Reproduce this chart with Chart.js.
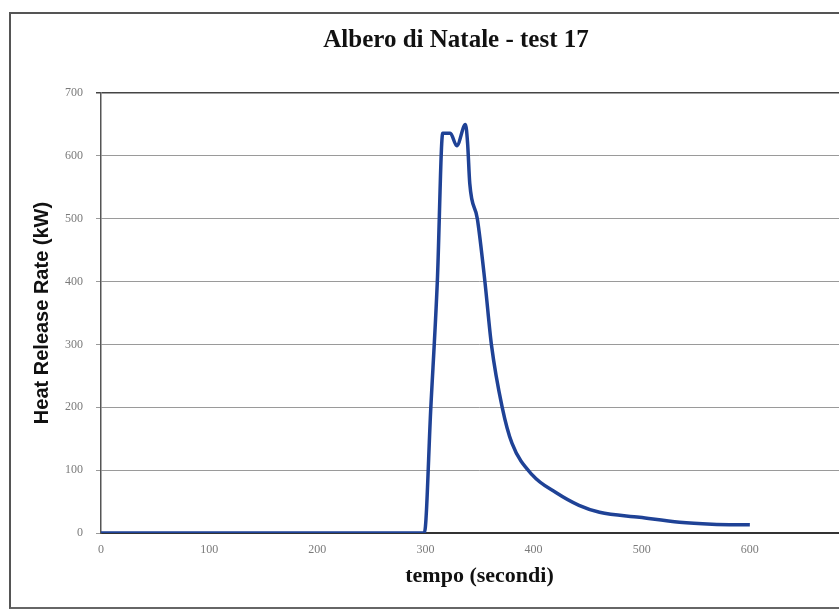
<!DOCTYPE html>
<html>
<head>
<meta charset="utf-8">
<script src="https://cdn.jsdelivr.net/npm/chart.js@4/dist/chart.umd.min.js"></script>
<style>
  html, body { margin: 0; padding: 0; background: #ffffff; overflow: hidden; width: 839px; height: 614px; }
  #wrap { position: absolute; left: 0; top: 0; width: 906px; height: 614px; }
  #frame { position: absolute; left: 9px; top: 12px; width: 1000px; height: 593px;
           border-left: 2px solid #555; border-top: 2px solid #555; border-bottom: 2px solid #666; }
</style>
</head>
<body>
<div id="wrap"><canvas id="c" width="906" height="614"></canvas></div>
<div id="frame"></div>
<script>
// ---- data ----
const times = [0, 100, 200, 299, 305, 311, 316, 323, 329, 337, 339, 341, 348, 355, 361, 371, 380, 399, 421, 442, 461, 498, 535, 565, 600];
const hrr   = [0, 0, 0, 0, 200, 400, 636, 636, 616, 650, 620, 556, 500, 400, 300, 200, 143, 92, 64, 44, 33, 25, 17, 14, 13];
const yTicks = [0, 100, 200, 300, 400, 500, 600, 700];
const xTickLabels = [0, 100, 200, 300, 400, 500, 600];
const chartTitle = 'Albero di Natale - test 17';
const xTitle = 'tempo (secondi)';
const yTitle = 'Heat Release Rate (kW)';

const points = times.map((t, i) => ({ x: t, y: hrr[i] }));

const titlePlugin = {
  id: 'pageTitle',
  afterDraw(chart) {
    const ctx = chart.ctx;
    ctx.save();
    ctx.fillStyle = '#111';
    ctx.font = 'bold 25px "Liberation Serif"';
    ctx.textAlign = 'center';
    ctx.textBaseline = 'middle';
    ctx.fillText(chartTitle, 456, 41);
    ctx.restore();
  }
};

new Chart(document.getElementById('c'), {
  type: 'line',
  data: {
    datasets: [{
      data: points,
      borderColor: '#1f4296',
      borderWidth: 3.5,
      pointRadius: 0,
      cubicInterpolationMode: 'monotone',
      fill: false,
      borderCapStyle: 'butt'
    }]
  },
  plugins: [titlePlugin],
  options: {
    responsive: false,
    animation: false,
    layout: { padding: { left: 0, right: 48, top: 93, bottom: 0 } },
    plugins: {
      legend: { display: false },
      tooltip: { enabled: false },
      title: { display: false }
    },
    scales: {
      x: {
        type: 'linear',
        min: 0,
        max: 700,
        afterFit: s => { s.height = 81; },
        afterBuildTicks: s => { s.ticks = [0,100,200,300,400,500,600,700].map(v => ({ value: v })); },
        ticks: {
          padding: 10,
          color: '#7a7a7a',
          font: { family: 'Liberation Serif', size: 12 },
          maxRotation: 0,
          callback: v => xTickLabels.includes(v) ? String(v) : ''
        },
        grid: { display: false, drawTicks: false },
        border: { display: true, color: '#333', width: 2 },
        title: {
          display: true,
          text: xTitle,
          color: '#111',
          font: { family: 'Liberation Serif', size: 22, weight: 'bold' },
          padding: { top: 0, bottom: 24 }
        }
      },
      y: {
        min: 0,
        max: 700,
        afterFit: s => { s.width = 101; },
        afterBuildTicks: s => { s.ticks = yTicks.map(v => ({ value: v })); },
        ticks: {
          padding: 13,
          color: '#7a7a7a',
          font: { family: 'Liberation Serif', size: 12 }
        },
        grid: {
          color: c => (c.tick && c.tick.value === 700) ? '#444' : '#9a9a9a',
          lineWidth: c => (c.tick && c.tick.value === 700) ? 1.5 : 1,
          tickLength: 5,
          drawTicks: true
        },
        border: { display: true, color: '#555', width: 1.5 },
        title: {
          display: true,
          text: yTitle,
          color: '#111',
          font: { family: 'Liberation Sans', size: 20, weight: 'bold' },
          padding: { top: 30, bottom: 0 }
        }
      }
    }
  }
});
</script>
</body>
</html>
